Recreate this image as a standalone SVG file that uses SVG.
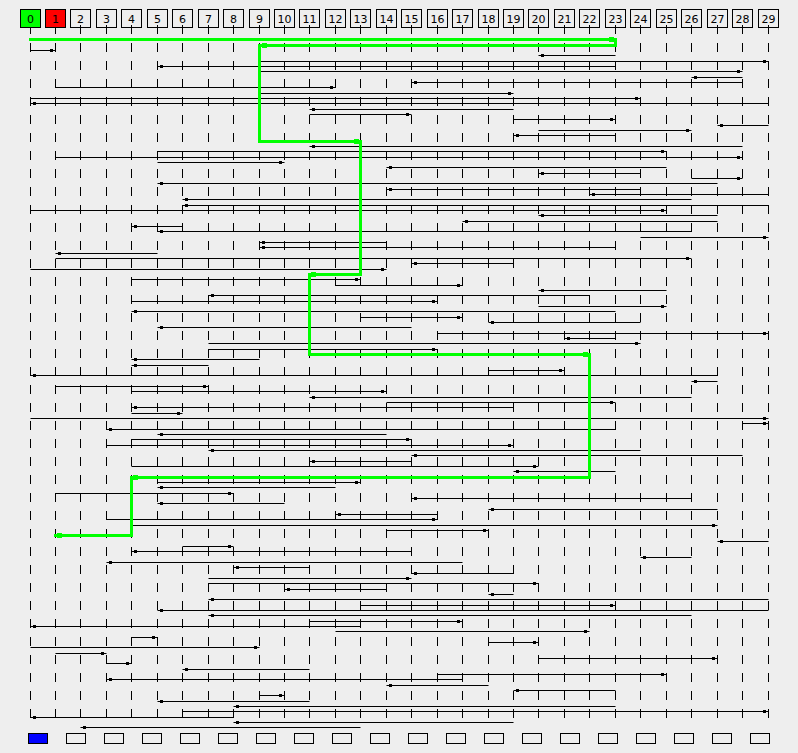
<svg xmlns="http://www.w3.org/2000/svg" width="798" height="753" viewBox="0 0 798 753">
<style>
.lane{stroke:#000;stroke-width:1;stroke-dasharray:9 9;fill:none}
.e path{stroke:#000;stroke-width:1;fill:none;marker-start:url(#ds)}
.g{stroke:#00ff00;stroke-width:3;fill:none;stroke-linecap:square}
.gd{fill:#00ff00}
.hb{fill:none;stroke:#000;stroke-width:1}
.bb{fill:none;stroke:#000;stroke-width:1}
.t{font-family:"DejaVu Sans",sans-serif;font-size:11px;text-anchor:middle;fill:#000}
</style>
<defs>
<marker id="ds" markerUnits="userSpaceOnUse" orient="auto" refX="0" refY="0" markerWidth="8" markerHeight="8" style="overflow:visible"><rect x="2.5" y="-1.5" width="3" height="3" fill="#000"/></marker>
</defs>
<rect width="798" height="753" fill="#eeeeee"/>
<g id="lanes">
<path class="lane" d="M30.5 25V718M55.5 25V718M80.5 25V718M106.5 25V718M131.5 25V718M157.5 25V718M182.5 25V718M208.5 25V718M233.5 25V718M259.5 25V718M284.5 25V718M309.5 25V718M335.5 25V718M360.5 25V718M386.5 25V718M411.5 25V718M437.5 25V718M462.5 25V718M488.5 25V718M513.5 25V718M538.5 25V718M564.5 25V718M589.5 25V718M615.5 25V718M640.5 25V718M666.5 25V718M691.5 25V718M717.5 25V718M742.5 25V718M768.5 25V718"/>
</g>
<g id="connectors" class="e">
<path d="M615.5 39.5H30.5"/>
<path d="M259.5 45.5H615.5"/>
<path d="M55.5 50.5H30.5"/>
<path d="M538.5 55.5H615.5"/>
<path d="M768.5 61.5H259.5"/>
<path d="M157.5 66.5H615.5"/>
<path d="M742.5 71.5H259.5"/>
<path d="M691.5 77.5H742.5"/>
<path d="M411.5 82.5H742.5"/>
<path d="M335.5 87.5H55.5"/>
<path d="M513.5 93.5H259.5"/>
<path d="M640.5 98.5H30.5"/>
<path d="M30.5 103.5H768.5"/>
<path d="M309.5 109.5H513.5"/>
<path d="M411.5 114.5H309.5"/>
<path d="M615.5 119.5H513.5"/>
<path d="M717.5 125.5H768.5"/>
<path d="M691.5 130.5H538.5"/>
<path d="M513.5 135.5H615.5"/>
<path d="M360.5 141.5H259.5"/>
<path d="M309.5 146.5H742.5"/>
<path d="M666.5 151.5H157.5"/>
<path d="M742.5 157.5H55.5"/>
<path d="M284.5 162.5H157.5"/>
<path d="M386.5 167.5H666.5"/>
<path d="M538.5 173.5H640.5"/>
<path d="M742.5 178.5H691.5"/>
<path d="M157.5 183.5H717.5"/>
<path d="M386.5 189.5H640.5"/>
<path d="M589.5 194.5H768.5"/>
<path d="M182.5 199.5H691.5"/>
<path d="M182.5 205.5H768.5"/>
<path d="M666.5 210.5H30.5"/>
<path d="M538.5 215.5H717.5"/>
<path d="M462.5 221.5H717.5"/>
<path d="M131.5 226.5H182.5"/>
<path d="M157.5 231.5H691.5"/>
<path d="M768.5 237.5H640.5"/>
<path d="M259.5 242.5H386.5"/>
<path d="M259.5 247.5H615.5"/>
<path d="M55.5 253.5H157.5"/>
<path d="M691.5 258.5H55.5"/>
<path d="M411.5 263.5H513.5"/>
<path d="M386.5 269.5H30.5"/>
<path d="M309.5 274.5H360.5"/>
<path d="M360.5 279.5H131.5"/>
<path d="M462.5 285.5H335.5"/>
<path d="M538.5 290.5H666.5"/>
<path d="M208.5 295.5H589.5"/>
<path d="M437.5 301.5H131.5"/>
<path d="M666.5 306.5H538.5"/>
<path d="M131.5 311.5H615.5"/>
<path d="M462.5 317.5H360.5"/>
<path d="M488.5 322.5H640.5"/>
<path d="M157.5 327.5H411.5"/>
<path d="M768.5 333.5H437.5"/>
<path d="M564.5 338.5H615.5"/>
<path d="M640.5 343.5H208.5"/>
<path d="M437.5 349.5H208.5"/>
<path d="M589.5 354.5H309.5"/>
<path d="M131.5 359.5H259.5"/>
<path d="M131.5 365.5H208.5"/>
<path d="M564.5 370.5H488.5"/>
<path d="M30.5 375.5H717.5"/>
<path d="M691.5 381.5H717.5"/>
<path d="M208.5 386.5H55.5"/>
<path d="M386.5 391.5H131.5"/>
<path d="M309.5 397.5H691.5"/>
<path d="M615.5 402.5H386.5"/>
<path d="M131.5 407.5H513.5"/>
<path d="M182.5 413.5H131.5"/>
<path d="M768.5 418.5H30.5"/>
<path d="M768.5 423.5H742.5"/>
<path d="M106.5 429.5H615.5"/>
<path d="M157.5 434.5H386.5"/>
<path d="M411.5 439.5H131.5"/>
<path d="M513.5 445.5H106.5"/>
<path d="M208.5 450.5H640.5"/>
<path d="M411.5 455.5H742.5"/>
<path d="M309.5 461.5H411.5"/>
<path d="M538.5 466.5H131.5"/>
<path d="M513.5 471.5H615.5"/>
<path d="M131.5 477.5H589.5"/>
<path d="M360.5 482.5H157.5"/>
<path d="M157.5 487.5H335.5"/>
<path d="M233.5 493.5H55.5"/>
<path d="M411.5 498.5H691.5"/>
<path d="M157.5 503.5H284.5"/>
<path d="M488.5 509.5H717.5"/>
<path d="M335.5 514.5H437.5"/>
<path d="M437.5 519.5H106.5"/>
<path d="M717.5 525.5H131.5"/>
<path d="M488.5 530.5H386.5"/>
<path d="M55.5 535.5H131.5"/>
<path d="M717.5 541.5H768.5"/>
<path d="M233.5 546.5H182.5"/>
<path d="M131.5 551.5H411.5"/>
<path d="M640.5 557.5H691.5"/>
<path d="M106.5 562.5H462.5"/>
<path d="M233.5 567.5H309.5"/>
<path d="M411.5 573.5H513.5"/>
<path d="M411.5 578.5H208.5"/>
<path d="M538.5 583.5H208.5"/>
<path d="M284.5 589.5H386.5"/>
<path d="M488.5 594.5H513.5"/>
<path d="M208.5 599.5H768.5"/>
<path d="M615.5 605.5H360.5"/>
<path d="M157.5 610.5H768.5"/>
<path d="M208.5 615.5H691.5"/>
<path d="M462.5 621.5H309.5"/>
<path d="M30.5 626.5H360.5"/>
<path d="M589.5 631.5H335.5"/>
<path d="M157.5 637.5H131.5"/>
<path d="M538.5 642.5H488.5"/>
<path d="M259.5 647.5H30.5"/>
<path d="M106.5 653.5H55.5"/>
<path d="M717.5 658.5H538.5"/>
<path d="M131.5 663.5H106.5"/>
<path d="M182.5 669.5H309.5"/>
<path d="M666.5 674.5H437.5"/>
<path d="M106.5 679.5H462.5"/>
<path d="M386.5 685.5H488.5"/>
<path d="M513.5 690.5H615.5"/>
<path d="M284.5 695.5H259.5"/>
<path d="M157.5 701.5H309.5"/>
<path d="M233.5 706.5H615.5"/>
<path d="M768.5 711.5H182.5"/>
<path d="M30.5 717.5H233.5"/>
<path d="M233.5 722.5H513.5"/>
<path d="M80.5 727.5H360.5"/>
</g>
<g id="route">
<polyline class="g" points="30.5,39.5 615.5,39.5 615.5,45.5 259.5,45.5 259.5,141.5 360.5,141.5 360.5,274.5 309.5,274.5 309.5,354.5 589.5,354.5 589.5,477.5 131.5,477.5 131.5,535.5 55.5,535.5"/>
<rect class="gd" x="609" y="37" width="5" height="5"/>
<rect class="gd" x="262" y="43" width="5" height="5"/>
<rect class="gd" x="354" y="139" width="5" height="5"/>
<rect class="gd" x="311" y="272" width="5" height="5"/>
<rect class="gd" x="583" y="352" width="5" height="5"/>
<rect class="gd" x="133" y="475" width="5" height="5"/>
<rect class="gd" x="57" y="533" width="5" height="5"/>
</g>
<g id="columns">
<g id="col-0"><rect x="20.5" y="9.5" width="20" height="18" fill="#00ff00" stroke="#000"/><text class="t" x="30.5" y="23">0</text></g>
<g id="col-1"><rect x="45.5" y="9.5" width="20" height="18" fill="#ff0000" stroke="#000"/><text class="t" x="55.5" y="23">1</text></g>
<g id="col-2"><rect class="hb" x="70.5" y="9.5" width="20" height="18"/><text class="t" x="80.5" y="23">2</text></g>
<g id="col-3"><rect class="hb" x="96.5" y="9.5" width="20" height="18"/><text class="t" x="106.5" y="23">3</text></g>
<g id="col-4"><rect class="hb" x="121.5" y="9.5" width="20" height="18"/><text class="t" x="131.5" y="23">4</text></g>
<g id="col-5"><rect class="hb" x="147.5" y="9.5" width="20" height="18"/><text class="t" x="157.5" y="23">5</text></g>
<g id="col-6"><rect class="hb" x="172.5" y="9.5" width="20" height="18"/><text class="t" x="182.5" y="23">6</text></g>
<g id="col-7"><rect class="hb" x="198.5" y="9.5" width="20" height="18"/><text class="t" x="208.5" y="23">7</text></g>
<g id="col-8"><rect class="hb" x="223.5" y="9.5" width="20" height="18"/><text class="t" x="233.5" y="23">8</text></g>
<g id="col-9"><rect class="hb" x="249.5" y="9.5" width="20" height="18"/><text class="t" x="259.5" y="23">9</text></g>
<g id="col-10"><rect class="hb" x="274.5" y="9.5" width="20" height="18"/><text class="t" x="284.5" y="23">10</text></g>
<g id="col-11"><rect class="hb" x="299.5" y="9.5" width="20" height="18"/><text class="t" x="309.5" y="23">11</text></g>
<g id="col-12"><rect class="hb" x="325.5" y="9.5" width="20" height="18"/><text class="t" x="335.5" y="23">12</text></g>
<g id="col-13"><rect class="hb" x="350.5" y="9.5" width="20" height="18"/><text class="t" x="360.5" y="23">13</text></g>
<g id="col-14"><rect class="hb" x="376.5" y="9.5" width="20" height="18"/><text class="t" x="386.5" y="23">14</text></g>
<g id="col-15"><rect class="hb" x="401.5" y="9.5" width="20" height="18"/><text class="t" x="411.5" y="23">15</text></g>
<g id="col-16"><rect class="hb" x="427.5" y="9.5" width="20" height="18"/><text class="t" x="437.5" y="23">16</text></g>
<g id="col-17"><rect class="hb" x="452.5" y="9.5" width="20" height="18"/><text class="t" x="462.5" y="23">17</text></g>
<g id="col-18"><rect class="hb" x="478.5" y="9.5" width="20" height="18"/><text class="t" x="488.5" y="23">18</text></g>
<g id="col-19"><rect class="hb" x="503.5" y="9.5" width="20" height="18"/><text class="t" x="513.5" y="23">19</text></g>
<g id="col-20"><rect class="hb" x="528.5" y="9.5" width="20" height="18"/><text class="t" x="538.5" y="23">20</text></g>
<g id="col-21"><rect class="hb" x="554.5" y="9.5" width="20" height="18"/><text class="t" x="564.5" y="23">21</text></g>
<g id="col-22"><rect class="hb" x="579.5" y="9.5" width="20" height="18"/><text class="t" x="589.5" y="23">22</text></g>
<g id="col-23"><rect class="hb" x="605.5" y="9.5" width="20" height="18"/><text class="t" x="615.5" y="23">23</text></g>
<g id="col-24"><rect class="hb" x="630.5" y="9.5" width="20" height="18"/><text class="t" x="640.5" y="23">24</text></g>
<g id="col-25"><rect class="hb" x="656.5" y="9.5" width="20" height="18"/><text class="t" x="666.5" y="23">25</text></g>
<g id="col-26"><rect class="hb" x="681.5" y="9.5" width="20" height="18"/><text class="t" x="691.5" y="23">26</text></g>
<g id="col-27"><rect class="hb" x="707.5" y="9.5" width="20" height="18"/><text class="t" x="717.5" y="23">27</text></g>
<g id="col-28"><rect class="hb" x="732.5" y="9.5" width="20" height="18"/><text class="t" x="742.5" y="23">28</text></g>
<g id="col-29"><rect class="hb" x="758.5" y="9.5" width="20" height="18"/><text class="t" x="768.5" y="23">29</text></g>
</g>
<g id="slots">
<g id="slot-0"><rect x="28.5" y="733.5" width="19" height="10" fill="#0000ff" stroke="#000"/></g>
<g id="slot-1"><rect class="bb" x="66.5" y="733.5" width="19" height="10"/></g>
<g id="slot-2"><rect class="bb" x="104.5" y="733.5" width="19" height="10"/></g>
<g id="slot-3"><rect class="bb" x="142.5" y="733.5" width="19" height="10"/></g>
<g id="slot-4"><rect class="bb" x="180.5" y="733.5" width="19" height="10"/></g>
<g id="slot-5"><rect class="bb" x="218.5" y="733.5" width="19" height="10"/></g>
<g id="slot-6"><rect class="bb" x="256.5" y="733.5" width="19" height="10"/></g>
<g id="slot-7"><rect class="bb" x="294.5" y="733.5" width="19" height="10"/></g>
<g id="slot-8"><rect class="bb" x="332.5" y="733.5" width="19" height="10"/></g>
<g id="slot-9"><rect class="bb" x="370.5" y="733.5" width="19" height="10"/></g>
<g id="slot-10"><rect class="bb" x="408.5" y="733.5" width="19" height="10"/></g>
<g id="slot-11"><rect class="bb" x="446.5" y="733.5" width="19" height="10"/></g>
<g id="slot-12"><rect class="bb" x="484.5" y="733.5" width="19" height="10"/></g>
<g id="slot-13"><rect class="bb" x="522.5" y="733.5" width="19" height="10"/></g>
<g id="slot-14"><rect class="bb" x="560.5" y="733.5" width="19" height="10"/></g>
<g id="slot-15"><rect class="bb" x="598.5" y="733.5" width="19" height="10"/></g>
<g id="slot-16"><rect class="bb" x="636.5" y="733.5" width="19" height="10"/></g>
<g id="slot-17"><rect class="bb" x="674.5" y="733.5" width="19" height="10"/></g>
<g id="slot-18"><rect class="bb" x="712.5" y="733.5" width="19" height="10"/></g>
<g id="slot-19"><rect class="bb" x="750.5" y="733.5" width="19" height="10"/></g>
</g>
</svg>
